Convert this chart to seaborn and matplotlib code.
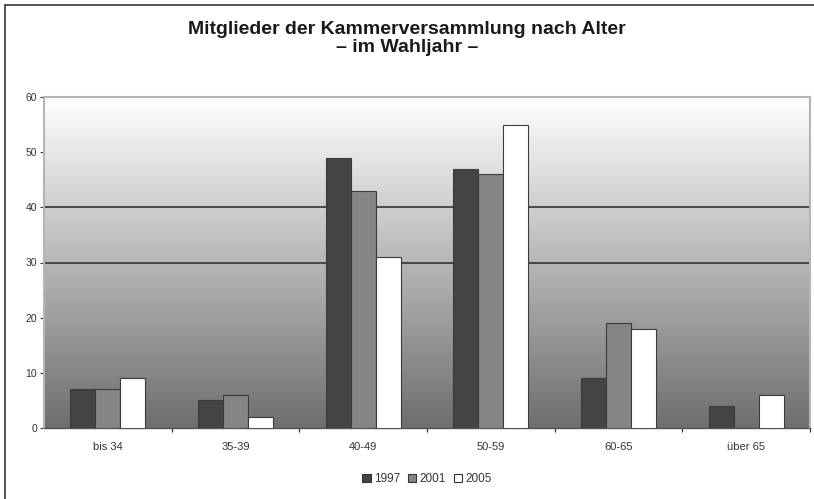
import numpy as np
import pandas as pd
import matplotlib
matplotlib.use("Agg")
import matplotlib.pyplot as plt
import seaborn as sns
from matplotlib.patches import Rectangle

categories = ["bis 34", "35-39", "40-49", "50-59", "60-65", "über 65"]
years = ["1997", "2001", "2005"]
v1997 = [7, 5, 49, 47, 9, 4]
v2001 = [7, 6, 43, 46, 19, 0]
v2005 = [9, 2, 31, 55, 18, 6]
yticks = [0, 10, 20, 30, 40, 50, 60]

rows = []
for yr, vals in zip(years, [v1997, v2001, v2005]):
    for c, v in zip(categories, vals):
        rows.append({"Alter": c, "Jahr": yr, "Anzahl": v})
df = pd.DataFrame(rows)

sns.set_theme(style="white")
plt.rcParams["font.family"] = ["Liberation Sans", "DejaVu Sans"]

fig = plt.figure(figsize=(8.14, 4.99), dpi=100)
ax = fig.add_axes([44/814, 1-428/499, (810-44)/814, (428-97)/499])

# gradient background
grad = np.linspace(0, 1, 256).reshape(-1, 1)
ax.imshow(grad, extent=[0, 1, 0, 1], transform=ax.transAxes, aspect="auto",
          cmap=matplotlib.colors.LinearSegmentedColormap.from_list("g", ["#ffffff", "#6e6e6e"]),
          zorder=0)

palette = {"1997": "#444444", "2001": "#858585", "2005": "#ffffff"}
sns.barplot(data=df, x="Alter", y="Anzahl", hue="Jahr", order=categories,
            hue_order=years, palette=palette, width=0.59, edgecolor="#3a3a3a",
            linewidth=0.8, saturation=1, ax=ax, zorder=3, legend=False)

ax.set_ylim(0, 60)
ax.set_yticks(yticks)
ax.set_xlim(-0.5, len(categories) - 0.5)
for g in [30, 40]:
    ax.axhline(g, color="#333333", lw=1.2, zorder=2)
ax.set_xlabel("")
ax.set_ylabel("")
ax.tick_params(axis="both", colors="#333333", length=3, width=0.8)
ax.tick_params(axis="x", labelsize=8, pad=10)
ax.tick_params(axis="y", labelsize=7.5, pad=2, left=True)
ax.set_xticks(np.arange(len(categories)) + 0.5, minor=True)
ax.tick_params(axis="x", which="minor", length=3, width=0.8, bottom=True)
ax.tick_params(axis="x", which="major", length=0)
for sp in ["top", "right", "left"]:
    ax.spines[sp].set_color("#b5b5b5")
    ax.spines[sp].set_linewidth(1.5)
ax.spines["bottom"].set_color("#555555")
ax.spines["bottom"].set_linewidth(1.0)

fig.text(0.5, 1-29/499, "Mitglieder der Kammerversammlung nach Alter",
         ha="center", va="center", fontsize=14, fontweight="bold", color="#1a1a1a")
fig.text(0.5, 1-48/499, "– im Wahljahr –",
         ha="center", va="center", fontsize=14, fontweight="bold", color="#1a1a1a")

handles = [Rectangle((0, 0), 1, 1, facecolor=palette[y], edgecolor="#333333", lw=0.8) for y in years]
fig.legend(handles, years, loc="center", bbox_to_anchor=(427/814, 1-479/499), ncol=3,
           frameon=False, fontsize=8.5, handlelength=0.7, handleheight=0.7,
           handletextpad=0.25, columnspacing=0.7, labelcolor="#333333")

fig.patches.append(Rectangle((5/814, -0.1), 1.2, 1 - 5/499 + 0.1, transform=fig.transFigure,
                             fill=False, edgecolor="#333333", lw=1.2))

fig.savefig("out.png", dpi=100)
